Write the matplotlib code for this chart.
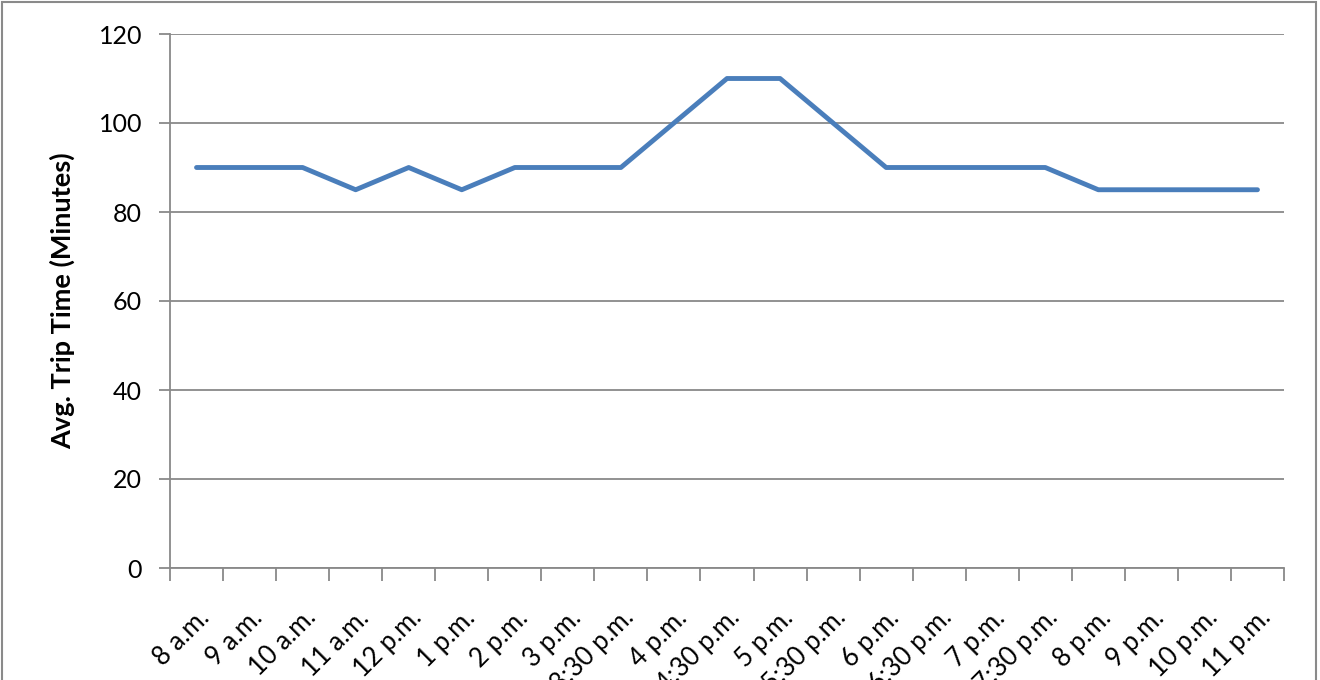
import matplotlib
matplotlib.use("Agg")
import matplotlib.pyplot as plt
from matplotlib.patches import Rectangle
from matplotlib.transforms import ScaledTranslation

categories = ["8 a.m.", "9 a.m.", "10 a.m.", "11 a.m.", "12 p.m.", "1 p.m.", "2 p.m.",
              "3 p.m.", "3:30 p.m.", "4 p.m.", "4:30 p.m.", "5 p.m.", "5:30 p.m.", "6 p.m.",
              "6:30 p.m.", "7 p.m.", "7:30 p.m.", "8 p.m.", "9 p.m.", "10 p.m.", "11 p.m."]
trip_time = [90, 90, 90, 85, 90, 85, 90, 90, 90, 100, 110, 110, 100, 90, 90, 90, 90, 85, 85, 85, 85]
y_ticks = [0, 20, 40, 60, 80, 100, 120]

plt.rcParams['font.family'] = ['Lato', 'DejaVu Sans']
grey = '#898989'

fig = plt.figure(figsize=(13.2, 6.8), dpi=100)
ax = fig.add_axes([170/1320, 1 - 568/680, (1284 - 170)/1320, (568 - 34)/680])

x = list(range(len(categories)))
ax.plot(x, trip_time, color='#4A7EBB', lw=3.5, solid_joinstyle='round', solid_capstyle='round', zorder=3)

ax.set_xlim(-0.5, len(categories) - 0.5)
ax.set_ylim(0, 120)
ax.set_yticks(y_ticks)
ax.set_yticklabels([str(v) for v in y_ticks], fontsize=18)
ax.yaxis.grid(True, color=grey, lw=1.3)
ax.set_axisbelow(True)

ax.set_xticks(x)
ax.set_xticklabels(categories, fontsize=18.5, rotation=45, ha='right', va='center',
                   rotation_mode='anchor')
ax.set_xticks([i - 0.5 for i in range(len(categories) + 1)], minor=True)
ax.tick_params(axis='x', which='major', length=0, pad=33)
ax.tick_params(axis='x', which='minor', length=9, color=grey, width=1.3)
ax.tick_params(axis='y', length=8, color=grey, width=1.3, pad=12)
offset = ScaledTranslation(9/100, 0, fig.dpi_scale_trans)
for lab in ax.get_xticklabels():
    lab.set_transform(lab.get_transform() + offset)

for s in ['top', 'right']:
    ax.spines[s].set_visible(False)
for s in ['left', 'bottom']:
    ax.spines[s].set_color(grey)
    ax.spines[s].set_linewidth(1.3)

ax.set_ylabel("Avg. Trip Time (Minutes)", fontsize=19.5, fontweight='bold', labelpad=17)

fig.patches.append(Rectangle((2/1320, -0.1), (1316 - 2)/1320, 1 + 0.1 - 2/680,
                             transform=fig.transFigure, fill=False, edgecolor='#8a8a8a', lw=1.5))

fig.savefig("out.png", dpi=100)
